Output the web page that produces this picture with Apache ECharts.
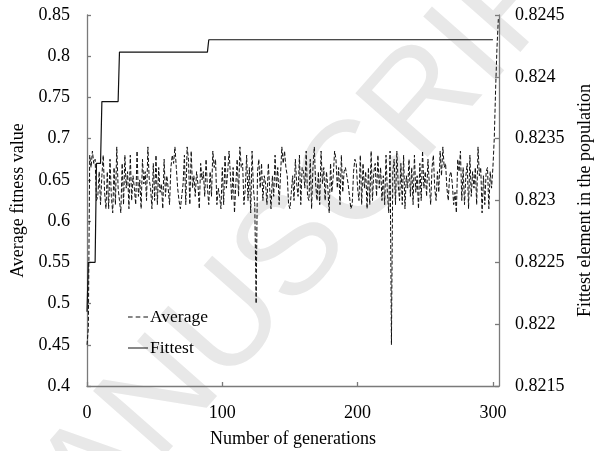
<!DOCTYPE html>
<html>
<head>
<meta charset="utf-8">
<script src="https://cdn.jsdelivr.net/npm/echarts@6/dist/echarts.min.js"></script>
<style>html,body{margin:0;padding:0;background:#fff}#c{width:596px;height:451px}</style>
</head>
<body>
<div id="c"></div>
<script>
// Average fitness per generation (index = generation), left axis
const averageValues = [
  0.45, 0.47, 0.68, 0.665, 0.685, 0.67, 0.675, 0.625, 0.63, 0.66,
  0.62, 0.655, 0.68, 0.635, 0.615, 0.66, 0.615, 0.675, 0.63, 0.61,
  0.665, 0.62, 0.69, 0.64, 0.625, 0.61, 0.67, 0.62, 0.68, 0.64,
  0.66, 0.615, 0.68, 0.625, 0.655, 0.64, 0.62, 0.685, 0.63, 0.65,
  0.615, 0.675, 0.645, 0.66, 0.625, 0.69, 0.65, 0.64, 0.615, 0.67,
  0.625, 0.68, 0.62, 0.665, 0.635, 0.645, 0.615, 0.675, 0.63, 0.655,
  0.64, 0.62, 0.665, 0.68, 0.67, 0.69, 0.665, 0.64, 0.625, 0.615,
  0.63, 0.645, 0.68, 0.62, 0.69, 0.675, 0.62, 0.685, 0.64, 0.655,
  0.63, 0.66, 0.645, 0.615, 0.67, 0.65, 0.66, 0.63, 0.675, 0.64,
  0.62, 0.66, 0.63, 0.685, 0.665, 0.675, 0.62, 0.64, 0.63, 0.615,
  0.665, 0.62, 0.68, 0.64, 0.66, 0.685, 0.655, 0.625, 0.665, 0.61,
  0.645, 0.675, 0.63, 0.69, 0.665, 0.67, 0.62, 0.64, 0.68, 0.625,
  0.665, 0.61, 0.685, 0.64, 0.62, 0.50, 0.66, 0.675, 0.64, 0.67,
  0.625, 0.655, 0.645, 0.62, 0.67, 0.64, 0.615, 0.655, 0.63, 0.68,
  0.64, 0.665, 0.62, 0.655, 0.69, 0.67, 0.685, 0.665, 0.655, 0.62,
  0.615, 0.635, 0.655, 0.625, 0.675, 0.645, 0.63, 0.68, 0.62, 0.665,
  0.66, 0.64, 0.685, 0.63, 0.625, 0.675, 0.615, 0.665, 0.69, 0.645,
  0.625, 0.66, 0.62, 0.685, 0.645, 0.665, 0.625, 0.66, 0.64, 0.61,
  0.67, 0.635, 0.655, 0.685, 0.675, 0.64, 0.665, 0.62, 0.68, 0.635,
  0.66, 0.665, 0.655, 0.645, 0.63, 0.615, 0.62, 0.66, 0.675, 0.67,
  0.64, 0.625, 0.68, 0.62, 0.67, 0.64, 0.66, 0.615, 0.665, 0.62,
  0.685, 0.625, 0.66, 0.67, 0.63, 0.68, 0.64, 0.665, 0.625, 0.655,
  0.62, 0.68, 0.635, 0.61, 0.685, 0.45, 0.66, 0.675, 0.62, 0.685,
  0.645, 0.625, 0.67, 0.62, 0.68, 0.615, 0.655, 0.64, 0.675, 0.63,
  0.665, 0.62, 0.68, 0.635, 0.655, 0.615, 0.67, 0.625, 0.685, 0.64,
  0.66, 0.63, 0.675, 0.645, 0.62, 0.665, 0.68, 0.64, 0.625, 0.66,
  0.635, 0.685, 0.655, 0.69, 0.665, 0.67, 0.64, 0.625, 0.655, 0.66,
  0.645, 0.62, 0.635, 0.61, 0.675, 0.66, 0.685, 0.625, 0.665, 0.62,
  0.655, 0.67, 0.615, 0.68, 0.63, 0.66, 0.64, 0.665, 0.62, 0.69,
  0.655, 0.665, 0.61, 0.655, 0.62, 0.66, 0.665, 0.615, 0.66, 0.64,
  0.665, 0.70, 0.76, 0.81, 0.845
];
// Fittest element: generations where value changes, right axis
const fittestGenerations = [0, 1, 6, 7, 10, 11, 23, 24, 89, 90, 300];
const fittestValues = [0.8221, 0.8225, 0.8225, 0.8233, 0.8233, 0.8238, 0.8238, 0.8242, 0.8242, 0.8243, 0.8243];
const seriesNames = ['Average', 'Fittest'];
const xTickLabels = [0, 100, 200, 300];
const axisTitles = ['Number of generations', 'Average fitness value', 'Fittest element in the population'];
const watermark = 'MANUSCRIPT';

const FONT = '"Liberation Serif", "Times New Roman", serif';
const chart = echarts.init(document.getElementById('c'), null, {renderer: 'canvas'});
const avgData = averageValues.map((v, i) => [i, v]);
const fitData = fittestGenerations.map((g, i) => [g, fittestValues[i]]);
const axisCommon = {
  axisLine: {show: true, lineStyle: {color: '#7a7a7a', width: 1.3}},
  axisTick: {show: true, inside: true, length: 4, lineStyle: {color: '#7a7a7a', width: 1.3}},
  splitLine: {show: false},
  nameTextStyle: {fontFamily: FONT, fontSize: 18, color: '#000'}
};
const dashIcon = 'path://M0,0h4.5v1h-4.5z M7.5,0h4.5v1h-4.5z M15,0h4.5v1h-4.5z';
const solidIcon = 'path://M0,0h20v1h-20z';
chart.setOption({
  animation: false,
  backgroundColor: '#fff',
  graphic: [{
    type: 'text', z: -10, silent: true,
    x: 296, y: 248, rotation: Math.PI * 0.27,
    style: {text: watermark, font: '140px "Liberation Sans", Arial, sans-serif', fill: '#e8e8e8', align: 'center', verticalAlign: 'middle'}
  }],
  grid: {left: 87, right: 97, top: 15, bottom: 65, containLabel: false, outerBoundsMode: 'none'},
  legend: {
    orient: 'vertical', left: 123, top: 303, itemGap: 13, itemWidth: 20, itemHeight: 1.2,
    data: [{name: seriesNames[0], icon: dashIcon}, {name: seriesNames[1], icon: solidIcon}],
    itemStyle: {color: '#111'},
    textStyle: {fontFamily: FONT, fontSize: 17.5, color: '#000', padding: [0, 0, 0, -3]}
  },
  xAxis: Object.assign({}, axisCommon, {
    type: 'value', min: 0, max: 304.5, interval: 100,
    name: axisTitles[0], nameLocation: 'middle', nameGap: 44,
    axisLabel: {fontFamily: FONT, fontSize: 18, color: '#000', margin: 18, showMaxLabel: false,
      formatter: v => xTickLabels.includes(v) ? String(v) : ''}
  }),
  yAxis: [
    Object.assign({}, axisCommon, {
      type: 'value', min: 0.4, max: 0.85, interval: 0.05, position: 'left',
      name: axisTitles[1], nameLocation: 'middle', nameGap: 54, nameRotate: 90,
      axisLabel: {fontFamily: FONT, fontSize: 18, color: '#000', margin: 17}
    }),
    Object.assign({}, axisCommon, {
      type: 'value', min: 0.8215, max: 0.8245, interval: 0.0005, position: 'right',
      name: axisTitles[2], nameLocation: 'middle', nameGap: 77, nameRotate: 90,
      axisLabel: {fontFamily: FONT, fontSize: 18, color: '#000', margin: 16}
    })
  ],
  series: [
    {
      name: seriesNames[0], type: 'line', yAxisIndex: 0, data: avgData,
      symbol: 'none', showSymbol: false,
      lineStyle: {color: '#111', width: 1, type: [4, 2]}, itemStyle: {color: '#111'}
    },
    {
      name: seriesNames[1], type: 'line', yAxisIndex: 1, data: fitData,
      symbol: 'none', showSymbol: false,
      lineStyle: {color: '#111', width: 1.2, type: 'solid'}, itemStyle: {color: '#111'}
    }
  ]
});
</script>
</body>
</html>
